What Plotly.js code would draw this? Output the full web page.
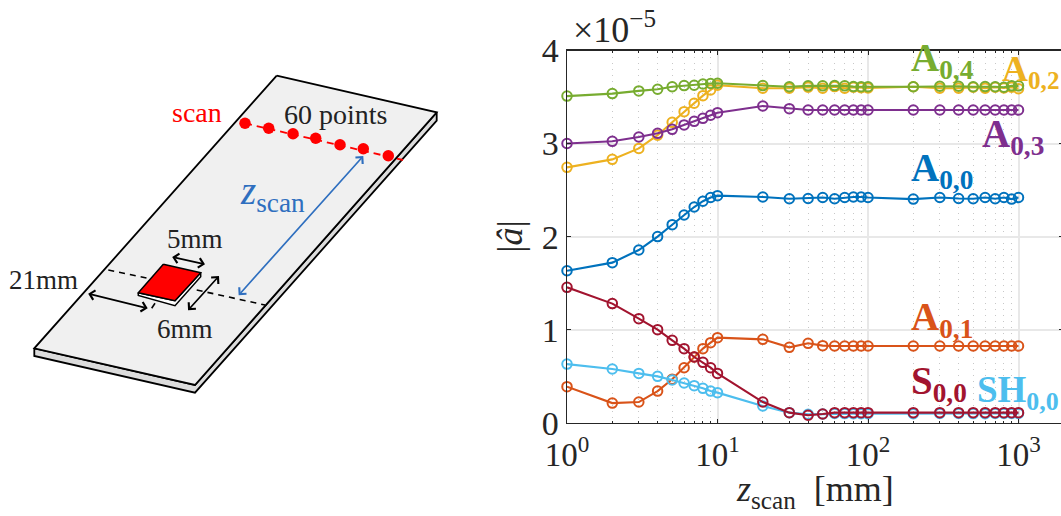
<!DOCTYPE html>
<html><head><meta charset="utf-8">
<script src="https://cdn.plot.ly/plotly-3.0.1.min.js"></script>
<style>html,body{margin:0;padding:0;background:#fff;overflow:hidden;width:1061px;height:516px}#g{width:1063px;height:516px}</style>
</head><body><div id="g"></div>
<script>
const zScan=[1,2,3,4,5,6,7,8,9,10,20,30,40,50,60,70,80,90,100,200,300,400,500,600,700,800,900,1000];
const A00=[1.633,1.72,1.856,2.0,2.128,2.232,2.318,2.38,2.42,2.44,2.425,2.407,2.41,2.42,2.407,2.42,2.425,2.425,2.42,2.403,2.42,2.41,2.407,2.42,2.407,2.42,2.403,2.42];
const A01=[0.387,0.211,0.222,0.34,0.466,0.591,0.706,0.796,0.86,0.914,0.896,0.81,0.853,0.828,0.824,0.824,0.824,0.824,0.824,0.824,0.824,0.824,0.824,0.824,0.824,0.824,0.824,0.824];
const A02=[2.744,2.83,2.948,3.09,3.228,3.343,3.433,3.515,3.576,3.627,3.594,3.594,3.605,3.594,3.612,3.594,3.605,3.601,3.598,3.61,3.594,3.594,3.605,3.594,3.605,3.598,3.605,3.59];
const A03=[3.0,3.024,3.07,3.11,3.153,3.2,3.239,3.271,3.304,3.332,3.404,3.375,3.361,3.361,3.361,3.361,3.361,3.361,3.361,3.361,3.361,3.361,3.361,3.361,3.361,3.361,3.361,3.361];
const A04=[3.51,3.537,3.566,3.584,3.61,3.623,3.627,3.64,3.645,3.648,3.623,3.61,3.62,3.62,3.623,3.62,3.612,3.61,3.61,3.61,3.616,3.616,3.61,3.612,3.61,3.605,3.62,3.62];
const SH00=[0.63,0.577,0.53,0.498,0.459,0.427,0.398,0.369,0.34,0.323,0.18,0.108,0.09,0.093,0.1,0.098,0.097,0.097,0.097,0.097,0.1,0.1,0.098,0.097,0.1,0.1,0.1,0.1];
const S00=[1.455,1.28,1.118,1.0,0.885,0.796,0.706,0.649,0.591,0.53,0.222,0.108,0.08,0.093,0.108,0.108,0.108,0.108,0.108,0.108,0.108,0.108,0.108,0.108,0.108,0.108,0.108,0.108];
const seriesNames=['A0,0','A0,1','A0,2','A0,3','A0,4','SH0,0','S0,0'];
const seriesValues=[A00,A01,A02,A03,A04,SH00,S00];
const seriesColors=['#0072BD','#D95319','#EDB120','#7E2F8E','#77AC30','#4DBEEE','#A2142F'];
const xTickVals=[1,10,100,1000];
const xTickText=['10<sup>0</sup>','10<sup>1</sup>','10<sup>2</sup>','10<sup>3</sup>'];
const xMinorVals=[2,3,4,5,6,7,8,9,20,30,40,50,60,70,80,90,200,300,400,500,600,700,800,900];
const yTickVals=[0,1,2,3,4];

// series labels: text, x, y, size (page pixels)
const labelText=['A','A','A','A','A','SH','S'];
const labelX=[942,942,1030,1013,942,1018,939];
const labelY=[170,319,71,136,60,392,383];
const labelSize=[39,39,36,39,39,37,39];

// schematic outlines (page pixels)
const plateX=[276.7,436.7,195,34.3,276.7], plateY=[75.7,112.3,385,348.3,75.7];
const sideX=[34.3,34.3,195,436.7,436.7,195,34.3], sideY=[348.3,356,392.7,120.7,112.3,385,348.3];
const chipX=[163.3,200.7,175,138.3,163.3], chipY=[264.3,272.7,300.7,292.7,264.3];
const chipSideX=[138.3,138.3,175,200.7,200.7,175,138.3], chipSideY=[292.7,295.5,305.7,276.7,272.7,300.7,292.7];
const scanLineX=[245,403], scanLineY=[123.3,160];
const scanDotX=[245,268.7,293,315.7,340,363.3,388.3], scanDotY=[123.3,128.3,133.7,138.3,144.7,148.7,155.7];
const cutX=[108.3,148.3,null,196.7,265,null,151.7,155], cutY=[270,278.3,null,290,305,null,308.3,303.3];
const arrows=[[170.7,256.7,205,264.3,'#000'],[186.7,311.7,219,276,'#000'],[86.7,293.3,147.7,308.3,'#000'],[237.3,296.7,363.3,156,'#2f6fbf']];
const sketchText=[['scan',197,112,'#ff0000',28],['60 points',335,114,'#222',28],['<i>z</i><sub>scan</sub>',272,193,'#2f6fbf',39],['5mm',195,239,'#222',27],['21mm',43,280,'#222',27],['6mm',185,329,'#222',27]];

const W=1063,H=516,FONT='"Liberation Serif",serif';
const traces=[];
const sk=(x,y,o)=>traces.push(Object.assign({x,y,xaxis:'x2',yaxis:'y2',mode:'lines',hoverinfo:'skip',showlegend:false},o));
sk(sideX,sideY,{fill:'toself',fillcolor:'#dcdcdc',line:{color:'#000',width:1.8}});
sk(plateX,plateY,{fill:'toself',fillcolor:'#f0f0f0',line:{color:'#000',width:1.8}});
sk(cutX,cutY,{line:{color:'#000',width:1.6,dash:'6px,5px'}});
sk(chipSideX,chipSideY,{fill:'toself',fillcolor:'#fff',line:{color:'#000',width:1.5}});
sk(chipX,chipY,{fill:'toself',fillcolor:'#ff0000',line:{color:'#000',width:1.5}});
sk(scanLineX,scanLineY,{line:{color:'#ff0000',width:1.8,dash:'7px,5px'}});
sk(scanDotX,scanDotY,{mode:'markers',marker:{color:'#ff0000',size:11.5}});
seriesValues.forEach((v,i)=>traces.push({x:zScan,y:v,name:seriesNames[i],mode:'lines+markers',cliponaxis:false,showlegend:false,
  line:{color:seriesColors[i],width:2.1},marker:{symbol:'circle-open',size:9.5,color:seriesColors[i],line:{width:2,color:seriesColors[i]}}}));

const ann=[];
arrows.forEach(a=>ann.push({xref:'x2',yref:'y2',axref:'x2',ayref:'y2',x:a[2],y:a[3],ax:a[0],ay:a[1],text:'',showarrow:true,arrowside:'end+start',arrowhead:4,startarrowhead:4,arrowsize:1.1,startarrowsize:1.1,arrowwidth:1.7,arrowcolor:a[4]}));
sketchText.forEach(t=>ann.push({xref:'x2',yref:'y2',x:t[1],y:t[2],text:t[0],showarrow:false,font:{family:FONT,size:t[4],color:t[3]}}));
seriesNames.forEach((n,i)=>{const sub=n.slice(labelText[i].length);
  ann.push({xref:'x2',yref:'y2',x:labelX[i],y:labelY[i],text:'<b>'+labelText[i]+'<sub>'+sub+'</sub></b>',showarrow:false,font:{family:FONT,size:labelSize[i],color:seriesColors[i]}});});
ann.push({xref:'x2',yref:'y2',x:614,y:27,text:'×10<sup>−5</sup>',showarrow:false,font:{family:FONT,size:36,color:'#262626'}});
ann.push({xref:'x2',yref:'y2',x:815,y:491,text:'<i>z</i><sub>scan</sub>  [mm]',showarrow:false,font:{family:FONT,size:36,color:'#262626'}});

const layout={width:W,height:H,margin:{l:0,r:0,t:0,b:0},paper_bgcolor:'#fff',plot_bgcolor:'rgba(0,0,0,0)',showlegend:false,
 font:{family:FONT,color:'#262626'},
 xaxis:{type:'log',domain:[567/W,1],range:[0,(W-567)/150.5],anchor:'y',tickmode:'array',tickvals:xTickVals,ticktext:xTickText,ticklabelstandoff:2,
   tickfont:{size:33,color:'#262626'},ticks:'inside',ticklen:4,tickcolor:'#262626',showline:true,linecolor:'#262626',linewidth:1.4,mirror:'ticks',
   showgrid:true,gridcolor:'#e8e8e8',gridwidth:2,zeroline:false,
   minor:{tickmode:'array',tickvals:xMinorVals,ticks:'inside',ticklen:2,tickcolor:'#262626',showgrid:true,gridcolor:'#c8c8c8',griddash:'1px,5px',gridwidth:1}},
 yaxis:{domain:[(H-422.7)/H,(H-50.5)/H],range:[0,4],anchor:'x',tickmode:'array',tickvals:yTickVals,ticktext:yTickVals.map(String),
   tickfont:{size:34,color:'#262626'},ticks:'inside',ticklen:4,tickcolor:'#262626',showline:true,linecolor:'#262626',linewidth:1.4,mirror:'ticks',
   showgrid:true,gridcolor:'#e8e8e8',gridwidth:2,zeroline:false,
   title:{text:'|<i>â</i>|',font:{size:36,color:'#262626'},standoff:8}},
 xaxis2:{domain:[0,1],range:[0,W],anchor:'y2',visible:false,fixedrange:true},
 yaxis2:{domain:[0,1],range:[H,0],anchor:'x2',visible:false,fixedrange:true},
 annotations:ann};
Plotly.newPlot('g',traces,layout,{displayModeBar:false,staticPlot:true});
</script></body></html>
